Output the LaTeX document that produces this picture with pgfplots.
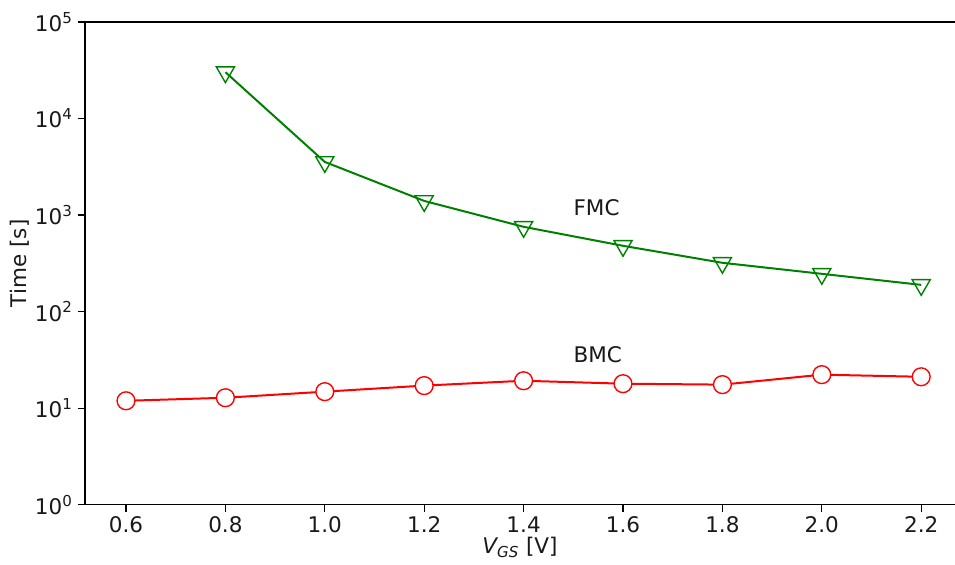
\documentclass[border=0pt]{standalone}
\usepackage{pgfplots}
\pgfplotsset{compat=1.18}
\usepackage{fontspec}
\setmainfont{DejaVu Sans}

\definecolor{mplgreen}{RGB}{0,128,0}
\definecolor{mplred}{RGB}{255,0,0}

\begin{document}
\begin{tikzpicture}
\begin{axis}[
    name=ax,
    scale only axis,
    width=566pt, height=314pt,
    ymode=log, log basis y=10,
    xmin=0.5175, xmax=2.268,
    ymin=1, ymax=1e5,
    xtick={0.6,0.8,...,2.2},
    xticklabels={0.6,0.8,1.0,1.2,1.4,1.6,1.8,2.0,2.2},
    ytick={1,10,100,1000,10000,100000},
    yticklabels={10\textsuperscript{0},10\textsuperscript{1},10\textsuperscript{2},10\textsuperscript{3},10\textsuperscript{4},10\textsuperscript{5}},
    axis x line*=bottom, axis y line*=left,
    axis line style={line width=0.75pt, -},
    tick style={black, line width=0.75pt},
    tick align=outside,
    major tick length=4.5pt, minor tick length=2.6pt,
    xtick pos=bottom, ytick pos=left,
    tick label style={font=\fontsize{14}{16}\selectfont, text=black!90},
    label style={font=\fontsize{14}{16}\selectfont, text=black!90},
    /pgf/number format/assume math mode=true,
    xlabel={{\itshape V}\textsubscript{\itshape GS} [V]},
    ylabel={Time [s]},
    xlabel shift=-4pt,
    ylabel shift=-3pt,
    clip=false,
]
\addplot[mplgreen, line width=1.3pt, mark=triangle, mark size=6.8pt,
    mark options={fill=white, line width=0.9pt, rotate=180}]
  coordinates {(0.8,30200) (1.0,3550) (1.2,1400) (1.4,755) (1.6,480) (1.8,320) (2.0,246) (2.2,189)};
\addplot[mplred, line width=1.3pt, mark=*, mark size=5.8pt,
    mark options={fill=white, line width=0.9pt}]
  coordinates {(0.6,11.9) (0.8,12.8) (1.0,14.8) (1.2,17.1) (1.4,19.2) (1.6,17.9) (1.8,17.5) (2.0,22.2) (2.2,21.1)};
\node[anchor=base west, font=\fontsize{14}{16}\selectfont, text=black!90, inner sep=0pt] at (axis cs:1.5,1000) {FMC};
\node[anchor=base west, font=\fontsize{14}{16}\selectfont, text=black!90, inner sep=0pt] at (axis cs:1.5,30) {BMC};
\draw[line width=0.75pt] (rel axis cs:0,1) -- (rel axis cs:1,1);
\end{axis}
\pgfresetboundingbox
\path[use as bounding box] ([shift={(-55.3pt,-39pt)}]ax.south west) rectangle ([shift={(0pt,14.3pt)}]ax.north east);
\end{tikzpicture}
\end{document}
